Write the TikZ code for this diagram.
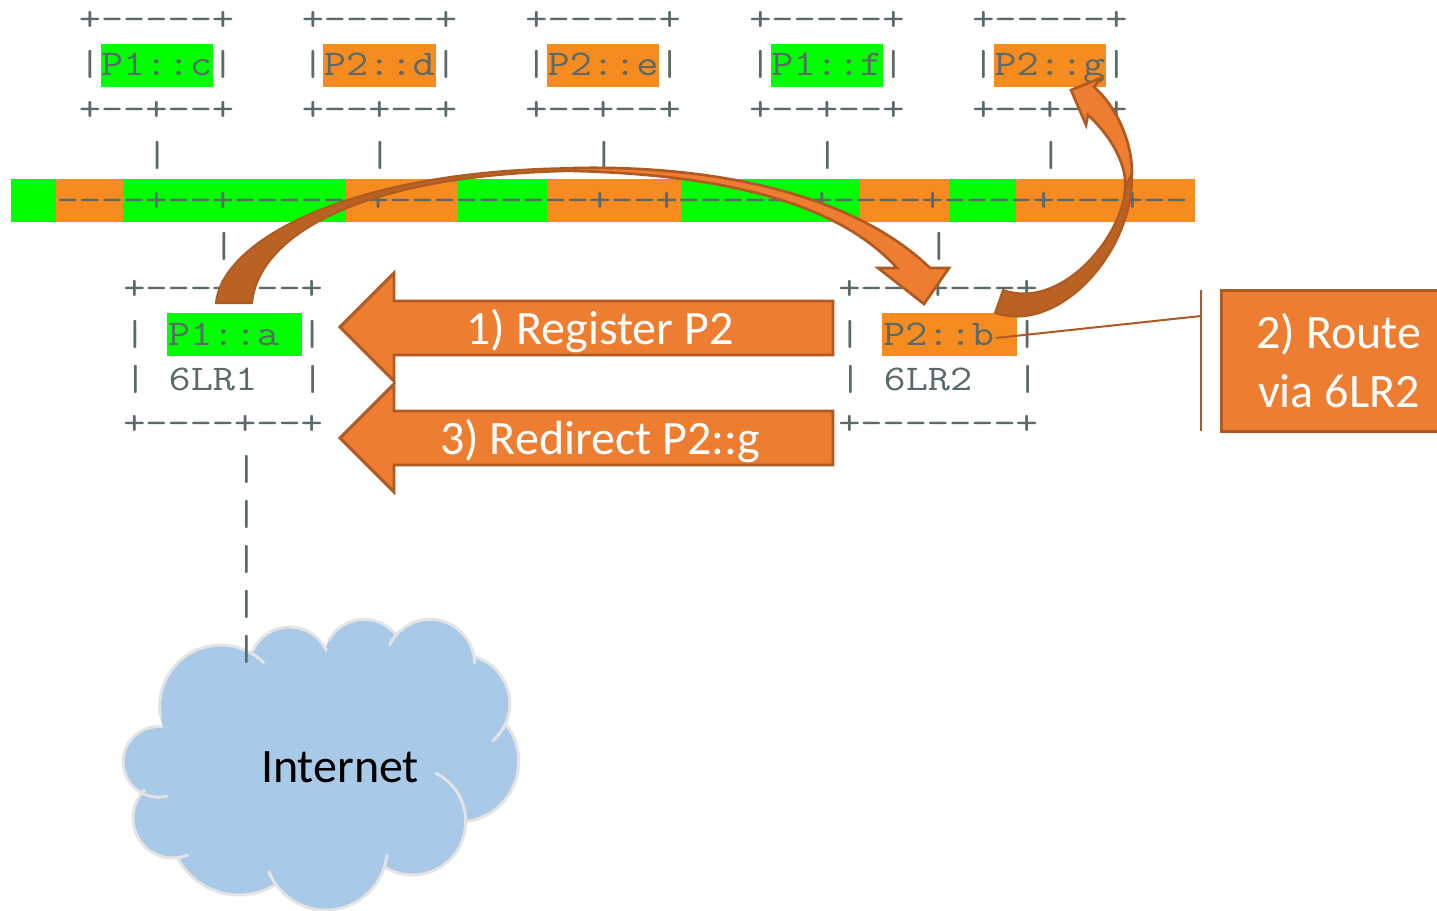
\documentclass[tikz,border=0pt]{standalone}
\usepackage{fontspec}
\usepackage{graphicx}
\setsansfont{Carlito}
\definecolor{grn}{HTML}{00FF00}
\definecolor{org}{HTML}{F68B1F}
\definecolor{asciitxt}{HTML}{5A6A6A}
\definecolor{arrfill}{HTML}{ED7D31}
\definecolor{arrline}{HTML}{AE5A21}
\definecolor{arrdark}{HTML}{B96223}
\definecolor{cloudfill}{HTML}{A9C9E9}
\definecolor{cloudline}{HTML}{E4E4E4}
\newcommand{\asciirow}[4]{\node[asciistyle] (#1) at (#2,#3) {\scalebox{1}[0.84]{\fontsize{32.3}{33}\selectfont\ttfamily #4}};}
\newcommand{\cloudlobe}[5]{\fill[cloudfill] (#1,#2) circle[radius=#3];}
\newcommand{\cloudedge}[5]{\draw[lobe] plot[domain=#4:#5,samples=40,smooth,variable=\t] ({#1+#3*cos(\t)},{#2+#3*sin(\t)});}
\tikzset{
  asciistyle/.style={anchor=base west,inner sep=0pt,text=asciitxt},
  bigarrow/.style={fill=arrfill,draw=arrline,line width=2.2pt,line join=miter},
  curvelight/.style={fill=arrfill,draw=arrline,line width=2pt,line join=miter},
  curvedark/.style={fill=arrdark,draw=arrline,line width=1.5pt,line join=miter},
  whitelabel/.style={inner sep=0pt,text=white,font=\sffamily\fontsize{36}{38}\selectfont},
  lobe/.style={draw=cloudline,line width=2.2pt,line cap=round},
}
\begin{document}
\begin{tikzpicture}[x=0.75pt,y=-0.75pt]
\useasboundingbox (0,0) rectangle (1437,910);
\fill[white] (0,0) rectangle (1437,910);
% cell backgrounds
\fill[grn] (101,44) rectangle (213,87);
\fill[org] (323,44) rectangle (436,87);
\fill[org] (547,44) rectangle (659,87);
\fill[grn] (771,44) rectangle (883,87);
\fill[org] (994,44) rectangle (1106,87);
\fill[grn] (11,179) rectangle (56,222);
\fill[org] (56,179) rectangle (123,222);
\fill[grn] (123,179) rectangle (346,222);
\fill[org] (346,179) rectangle (458,222);
\fill[grn] (458,179) rectangle (547,222);
\fill[org] (547,179) rectangle (681,222);
\fill[grn] (681,179) rectangle (860,222);
\fill[org] (860,179) rectangle (949,222);
\fill[grn] (949,179) rectangle (1016,222);
\fill[org] (1016,179) rectangle (1195,222);
\fill[grn] (167,313) rectangle (302,356);
\fill[org] (882,313) rectangle (1017,356);
% cloud
\begin{scope}[shift={(100,600)},xscale=0.331,yscale=0.3333]
\fill[cloudfill] (365,320) -- (572,203) -- (798,180) -- (997,193) -- (1092,311) -- (1083,484) -- (944,664) -- (682,744) -- (420,675) -- (219,654) -- (176,486) -- cycle;
\cloudlobe{365}{320}{185}{170.6}{314.3}
\cloudlobe{572.6}{203.3}{122.5}{203.2}{334.2}
\cloudlobe{798.2}{179.9}{122}{209.4}{320.3}
\cloudlobe{997}{193}{135}{205.4}{358.7}
\cloudlobe{1091.8}{311.1}{146.2}{285.2}{409.4}
\cloudlobe{1082.8}{484}{182.2}{-38.7}{83}
\cloudlobe{944.3}{664.3}{160.7}{-63.9}{121}
\cloudlobe{682}{744.1}{186.2}{6.4}{157.6}
\cloudlobe{419.7}{675}{210}{59}{151.6}
\cloudlobe{219.5}{654.5}{119.5}{67.6}{225}
\cloudlobe{175.6}{485.7}{105.7}{75.5}{275.9}
\cloudedge{365}{320}{185}{170.6}{314.3}
\cloudedge{572.6}{203.3}{122.5}{203.2}{334.2}
\cloudedge{798.2}{179.9}{122}{209.4}{320.3}
\cloudedge{997}{193}{135}{205.4}{358.7}
\cloudedge{1091.8}{311.1}{146.2}{285.2}{409.4}
\cloudedge{1082.8}{484}{182.2}{-38.7}{83}
\cloudedge{944.3}{664.3}{160.7}{-63.9}{121}
\cloudedge{682}{744.1}{186.2}{6.4}{157.6}
\cloudedge{419.7}{675}{210}{59}{151.6}
\cloudedge{219.5}{654.5}{119.5}{67.6}{225}
\cloudedge{175.6}{485.7}{105.7}{75.5}{275.9}
\end{scope}
\node[inner sep=0pt,text=black,font=\sffamily\fontsize{36}{38}\selectfont] (internet) at (340,767) {Internet};
% ascii rows
\asciirow{a1}{78.6}{30}{+-----+}
\asciirow{a2}{301.5}{30}{+-----+}
\asciirow{a3}{525.2}{30}{+-----+}
\asciirow{a4}{749}{30}{+-----+}
\asciirow{a5}{972}{30}{+-----+}
\asciirow{b1}{78.6}{75}{|P1::c|}
\asciirow{b2}{301.5}{75}{|P2::d|}
\asciirow{b3}{525.2}{75}{|P2::e|}
\asciirow{b4}{749}{75}{|P1::f|}
\asciirow{b5}{972}{75}{|P2::g|}
\asciirow{c1}{78.6}{120.4}{+--+--+}
\asciirow{c2}{301.5}{120.4}{+--+--+}
\asciirow{c3}{525.2}{120.4}{+--+--+}
\asciirow{c4}{749}{120.4}{+--+--+}
\asciirow{c5}{972}{120.4}{+--+--+}
\asciirow{d1}{145.8}{166}{|}
\asciirow{d2}{368.6}{166}{|}
\asciirow{d3}{592.6}{166}{|}
\asciirow{d4}{816}{166}{|}
\asciirow{d5}{1039.6}{166}{|}
\asciirow{bar}{56.4}{211.2}{----+--+------+---------+--+------+----+----+---+--}
\asciirow{e1}{212.6}{257}{|}
\asciirow{e2}{927.6}{257}{|}
\asciirow{f1}{123}{299.5}{+---+---+}
\asciirow{f2}{838}{299.5}{+---+---+}
\asciirow{g1}{123.5}{345}{|~P1::a~|}
\asciirow{g2}{838.5}{345}{|~P2::b~|}
\asciirow{h1}{124}{390}{|~6LR1~~|}
\asciirow{h2}{839}{390}{|~6LR2~~|}
\asciirow{i1}{123}{434}{+----+--+}
\asciirow{i2}{838}{434}{+-------+}
\asciirow{j1}{235}{480}{|}
\asciirow{j2}{235}{525}{|}
\asciirow{j3}{235}{570}{|}
\asciirow{j4}{235}{615}{|}
\asciirow{j5}{235}{660}{|}
% block arrows
\draw[bigarrow] (340,327) -- (394,273) -- (394,301) -- (833,301) -- (833,355) -- (394,355) -- (394,381) -- cycle;
\draw[bigarrow] (340,438) -- (394,384) -- (394,411) -- (833,411) -- (833,465) -- (394,465) -- (394,492) -- cycle;
\node[whitelabel] (reg) at (600,331) {1) Register P2};
\node[whitelabel] (red) at (600,441) {3) Redirect P2::g};
% curved arrow 6LR1 to 6LR2
\draw[curvelight] (575,168) .. controls (730,165) and (860,200) .. (930,268)
  -- (949,268) -- (924,304) -- (878,268) -- (897,268)
  .. controls (840,205) and (730,175) .. (575,171) -- cycle;
\draw[curvedark] (216,303) .. controls (222,240) and (350,170) .. (575,168)
  -- (575,171) .. controls (350,175) and (258,240) .. (252,303) -- cycle;
% curved arrow 6LR2 to P2::g
\draw[curvelight] (1132,173) .. controls (1132,140) and (1115,105) .. (1094,87)
  -- (1101,78) -- (1071,90) -- (1086,125) -- (1088,115)
  .. controls (1110,135) and (1128,165) .. (1125,190) -- cycle;
\draw[curvedark] (995,313) .. controls (1060,335) and (1135,250) .. (1132,173)
  -- (1125,190) .. controls (1120,240) and (1060,310) .. (1003,290) -- cycle;
% callout
\node[fill=arrfill,draw=arrline,line width=2.2pt,minimum width=240pt,minimum height=106pt,anchor=north west,inner sep=0pt] (note) at (1220,289) {};
\node[whitelabel] (note1) at (1339,334) {2) Route};
\node[whitelabel] (note2) at (1339,391) {via 6LR2};
\coordinate (barTop) at (1201,290);
\coordinate (barBottom) at (1201,431);
\coordinate (barMid) at (1201,316);
\coordinate (leader) at (996,338);
\draw[arrline,line width=1.5pt] (barTop) -- (barBottom);
\draw[arrline,line width=1.5pt] (barMid) -- (leader);
\end{tikzpicture}
\end{document}
